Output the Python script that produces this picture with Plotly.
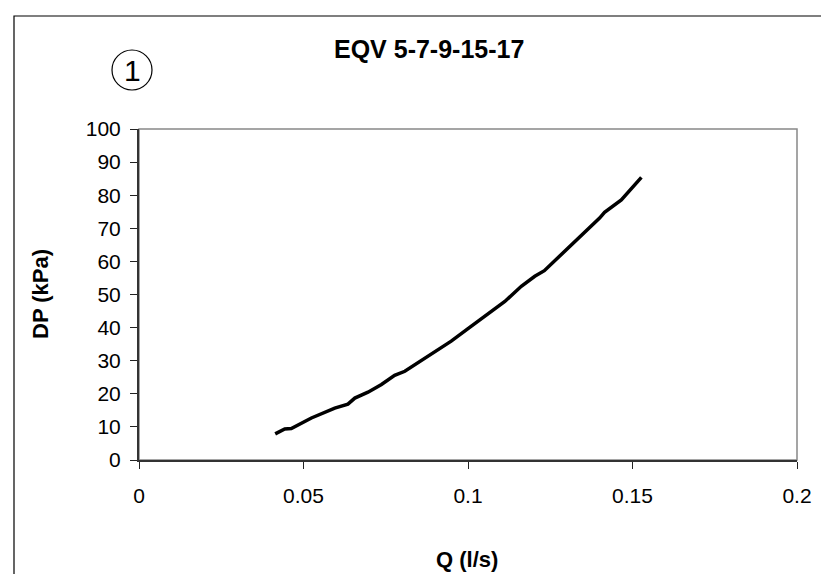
import plotly.graph_objects as go

q_values = [0.0414, 0.0443, 0.0463, 0.0524, 0.0595, 0.0635, 0.0656, 0.0696, 0.0737,
            0.0777, 0.0808, 0.0838, 0.0877, 0.0949, 0.1000, 0.1051, 0.1112, 0.1162,
            0.1203, 0.1232, 0.1294, 0.1355, 0.1400, 0.1415, 0.1466, 0.1527]
dp_values = [7.9, 9.4, 9.5, 12.7, 15.7, 16.9, 18.7, 20.5, 22.8,
             25.6, 26.8, 28.8, 31.3, 35.9, 39.7, 43.4, 47.9, 52.5,
             55.5, 57.2, 63.0, 68.6, 73.1, 74.8, 78.6, 85.4]

x_ticks = [0, 0.05, 0.1, 0.15, 0.2]
x_tick_labels = ["0", "0.05", "0.1", "0.15", "0.2"]
y_ticks = [0, 10, 20, 30, 40, 50, 60, 70, 80, 90, 100]
y_tick_labels = [str(v) for v in y_ticks]

title_text = "EQV 5-7-9-15-17"
x_title = "Q (l/s)"
y_title = "DP (kPa)"
badge_text = "1"

FONT = "Liberation Sans, Arial, sans-serif"

fig = go.Figure()
fig.add_trace(go.Scatter(x=q_values, y=dp_values, mode="lines",
                         line=dict(color="black", width=3.5), showlegend=False,
                         hoverinfo="skip"))

fig.update_layout(
    width=829, height=574,
    margin=dict(l=131, r=40, t=121, b=122, pad=0),
    paper_bgcolor="white", plot_bgcolor="white",
    font=dict(family=FONT, color="black"),
    xaxis=dict(range=[0, 0.2], tickvals=x_ticks, ticktext=x_tick_labels,
               showgrid=False, zeroline=False, showline=True, linecolor="#333333",
               linewidth=2, ticks="outside", ticklen=7, tickwidth=1, tickcolor="#222222",
               tickfont=dict(size=21, family=FONT, color="black"), ticklabelstandoff=9),
    yaxis=dict(range=[0, 100], tickvals=y_ticks, ticktext=y_tick_labels,
               showgrid=False, zeroline=False, showline=True, linecolor="#333333",
               linewidth=2, ticks="outside", ticklen=7, tickwidth=1, tickcolor="#222222",
               tickfont=dict(size=21, family=FONT, color="black"), ticklabelstandoff=5),
    shapes=[
        dict(type="rect", xref="paper", yref="paper", x0=0, x1=1, y0=0, y1=1,
             line=dict(color="#888888", width=1.5), layer="below"),
        dict(type="rect", xref="paper", yref="paper",
             x0=(6 - 131) / 658, x1=(840 - 131) / 658,
             y0=(452 - 590) / 331, y1=(452 - 8) / 331,
             line=dict(color="black", width=1.2)),
        dict(type="circle", xref="paper", yref="paper",
             x0=(104 - 131) / 658, x1=(144 - 131) / 658,
             y0=(452 - 82) / 331, y1=(452 - 42) / 331,
             line=dict(color="black", width=1.2)),
    ],
    annotations=[
        dict(text="<b>" + title_text + "</b>", xref="paper", yref="paper",
             x=(421 - 131) / 658, y=(452 - 41) / 331, xanchor="center", yanchor="middle",
             showarrow=False, font=dict(size=25, family=FONT, color="black")),
        dict(text="<b>" + x_title + "</b>", xref="paper", yref="paper",
             x=(459 - 131) / 658, y=(452 - 551) / 331, xanchor="center", yanchor="middle",
             showarrow=False, font=dict(size=22, family=FONT, color="black")),
        dict(text="<b>" + y_title + "</b>", xref="paper", yref="paper",
             x=(32 - 131) / 658, y=(452 - 286) / 331, xanchor="center", yanchor="middle",
             textangle=-90, showarrow=False, font=dict(size=22, family=FONT, color="black")),
        dict(text=badge_text, xref="paper", yref="paper",
             x=(124 - 131) / 658, y=(452 - 62) / 331, xanchor="center", yanchor="middle",
             showarrow=False, font=dict(size=30, family=FONT, color="black")),
    ],
)

fig.write_html("out.html")
